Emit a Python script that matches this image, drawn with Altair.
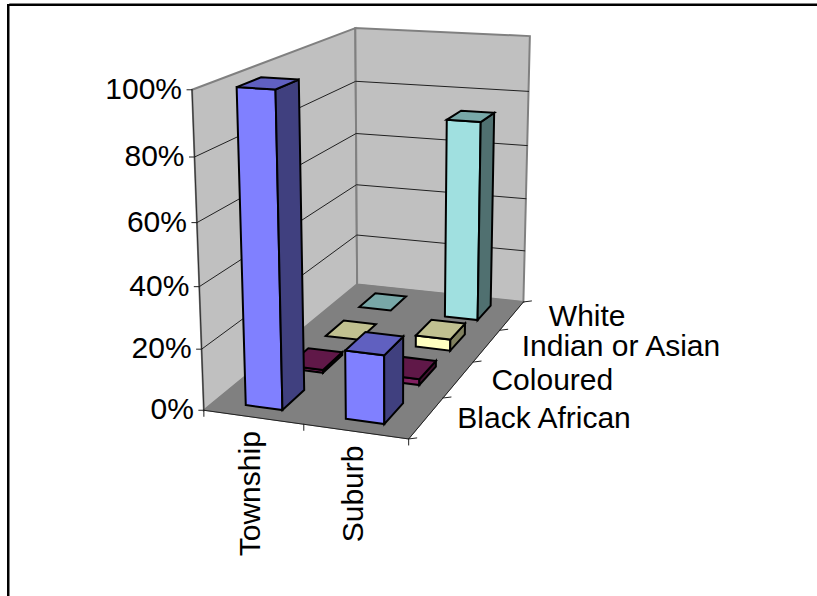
import altair as alt
import numpy as np

# Chart values, in percent
categories = ["Township", "Suburb"]
series = ["Black African", "Coloured", "Indian or Asian", "White"]
township = [100, 1, 0, 0]
suburb = [22, 2, 4, 73]
value_ticks = [0, 20, 40, 60, 80, 100]

# Face colours per series: front, side, top
front_colors = ["#8080FF", "#802060", "#FFFFC0", "#A0E0E0"]
side_colors = ["#40407F", "#40102F", "#80805F", "#507070"]
top_colors = ["#6060C0", "#601848", "#C0C090", "#78A8A8"]

W, H = 817, 596
FONT = "Liberation Sans"
FONT_SIZE = 30

# Camera: where the corners of the unit box (across, depth, height) land on the page
box_corners = [(0, 0, 0), (1, 0, 0), (0, 1, 0), (1, 1, 0), (0, 0, 1), (0, 1, 1), (1, 1, 1)]
page_corners = [(203.3, 410), (409, 439), (357.7, 284.5), (523, 302), (192.3, 90), (355, 28), (530, 36)]


def solve_camera(src, dst):
    rows, rhs = [], []
    for (a, d, h), (u, v) in zip(src, dst):
        rows.append([a, d, h, 1, 0, 0, 0, 0, -u * a, -u * d, -u * h])
        rhs.append(u)
        rows.append([0, 0, 0, 0, a, d, h, 1, -v * a, -v * d, -v * h])
        rhs.append(v)
    p = np.linalg.lstsq(np.array(rows, float), np.array(rhs, float), rcond=None)[0]
    return np.append(p, 1.0).reshape(3, 4)


CAM = solve_camera(box_corners, page_corners)


def pt(a, d, h=0.0):
    q = CAM @ np.array([a, d, h, 1.0])
    return [float(q[0] / q[2]), float(q[1] / q[2])]


def poly(points, fill, stroke="#000000", sw=1.0):
    ring = list(points) + [points[0]]
    return {
        "type": "Feature",
        "geometry": {"type": "Polygon", "coordinates": [ring]},
        "properties": {"fill": fill, "stroke": stroke, "sw": sw},
    }


def line(points, stroke="#000000", sw=1.0):
    return {
        "type": "Feature",
        "geometry": {"type": "LineString", "coordinates": list(points)},
        "properties": {"stroke": stroke, "sw": sw},
    }


WALL_EDGE = "#808080"
BAR_HALF_X = 0.093
BAR_HALF_Z = 0.065

# Walls and floor
shapes = [
    poly([pt(0, 0, 0), pt(0, 1, 0), pt(0, 1, 1), pt(0, 0, 1)], "#C0C0C0", WALL_EDGE, 2.0),
    poly([pt(0, 1, 0), pt(1, 1, 0), pt(1, 1, 1), pt(0, 1, 1)], "#C0C0C0", WALL_EDGE, 2.0),
]
wall_lines = []
for v in value_ticks[1:-1]:
    h = v / 100
    wall_lines.append(line([pt(0, 0, h), pt(0, 1, h), pt(1, 1, h)], "#202020", 1.0))
shapes.append(poly([pt(0, 0, 0), pt(1, 0, 0), pt(1, 1, 0), pt(0, 1, 0)], "#808080", "#808080", 1.0))

# Bars, drawn from the back row to the front one
bars = []
for row in range(len(series) - 1, -1, -1):
    for col, vals in enumerate([township, suburb]):
        h = vals[row] / 100
        xc = (col + 0.5) / len(categories)
        zc = (row + 0.5) / len(series)
        x0, x1 = xc - BAR_HALF_X, xc + BAR_HALF_X
        z0, z1 = zc - BAR_HALF_Z, zc + BAR_HALF_Z
        sw = 2.0
        if h > 0:
            bars.append(poly([pt(x0, z0, 0), pt(x1, z0, 0), pt(x1, z0, h), pt(x0, z0, h)], front_colors[row], "#000000", sw))
            bars.append(poly([pt(x1, z0, 0), pt(x1, z1, 0), pt(x1, z1, h), pt(x1, z0, h)], side_colors[row], "#000000", sw))
        bars.append(poly([pt(x0, z0, h), pt(x1, z0, h), pt(x1, z1, h), pt(x0, z1, h)], top_colors[row], "#000000", sw))

# Axis lines and tick marks
axes = [
    line([pt(0, 0, 0), pt(0, 0, 1)], "#303030", 1.0),
    line([pt(0, 0, 0), pt(1, 0, 0), pt(1, 1, 0)], "#202020", 1.0),
]
for v in value_ticks:
    p = pt(0, 0, v / 100)
    axes.append(line([[p[0] - 5, p[1]], p], "#202020", 1.0))
for i in range(len(categories) + 1):
    p = pt(i / len(categories), 0, 0)
    axes.append(line([p, [p[0], p[1] + 6]], "#202020", 1.0))
for i in range(len(series) + 1):
    p = pt(1, i / len(series), 0)
    axes.append(line([p, [p[0] + 8, p[1] - 1]], "#202020", 1.0))

# Page frame along the top and left edges
frame = [
    line([[9.5, H], [9.5, 3.5], [W, 3.5]], "#808080", 1.0),
    line([[8, H], [8, 5], [W, 5]], "#000000", 2.0),
]

# Text labels
value_labels = [
    {"lon": pt(0, 0, v / 100)[0] - 10, "lat": pt(0, 0, v / 100)[1], "t": f"{v}%"} for v in value_ticks
]
cat_labels = [
    {"lon": pt((i + 0.5) / 2, 0, 0)[0] - 2, "lat": pt((i + 0.5) / 2, 0, 0)[1] + 14, "t": c}
    for i, c in enumerate(categories)
]
series_labels = [
    {"lon": pt(1, (i + 0.5) / 4, 0)[0] + 31 + 2 * i, "lat": pt(1, (i + 0.5) / 4, 0)[1] + 1, "t": s}
    for i, s in enumerate(series)
]


def filled_layer(features):
    return alt.Chart(alt.Data(values=features)).mark_geoshape().encode(
        fill=alt.Fill("properties.fill:N", scale=None),
        stroke=alt.Stroke("properties.stroke:N", scale=None),
        strokeWidth=alt.StrokeWidth("properties.sw:Q", scale=None),
    )


def line_layer(features):
    return alt.Chart(alt.Data(values=features)).mark_geoshape(filled=False, strokeCap="square").encode(
        stroke=alt.Stroke("properties.stroke:N", scale=None),
        strokeWidth=alt.StrokeWidth("properties.sw:Q", scale=None),
    )


def text_layer(rows, **mark):
    return alt.Chart(alt.Data(values=rows)).mark_text(
        font=FONT, fontSize=FONT_SIZE, color="#000000", **mark
    ).encode(
        longitude="lon:Q",
        latitude="lat:Q",
        text="t:N",
    )


chart = alt.layer(
    line_layer(frame),
    filled_layer(shapes),
    line_layer(wall_lines),
    line_layer(axes),
    filled_layer(bars),
    text_layer(value_labels, align="right", baseline="middle"),
    text_layer(cat_labels, align="right", baseline="middle", angle=270),
    text_layer(series_labels, align="left", baseline="middle"),
).project(
    type="identity", scale=1, translate=[0, 0]
).properties(
    width=W,
    height=H,
    padding=0,
    autosize=alt.AutoSizeParams(type="none"),
    background="#FFFFFF",
).configure_view(stroke=None)

chart.save("out.html", embed_options={"renderer": "svg", "actions": False})
